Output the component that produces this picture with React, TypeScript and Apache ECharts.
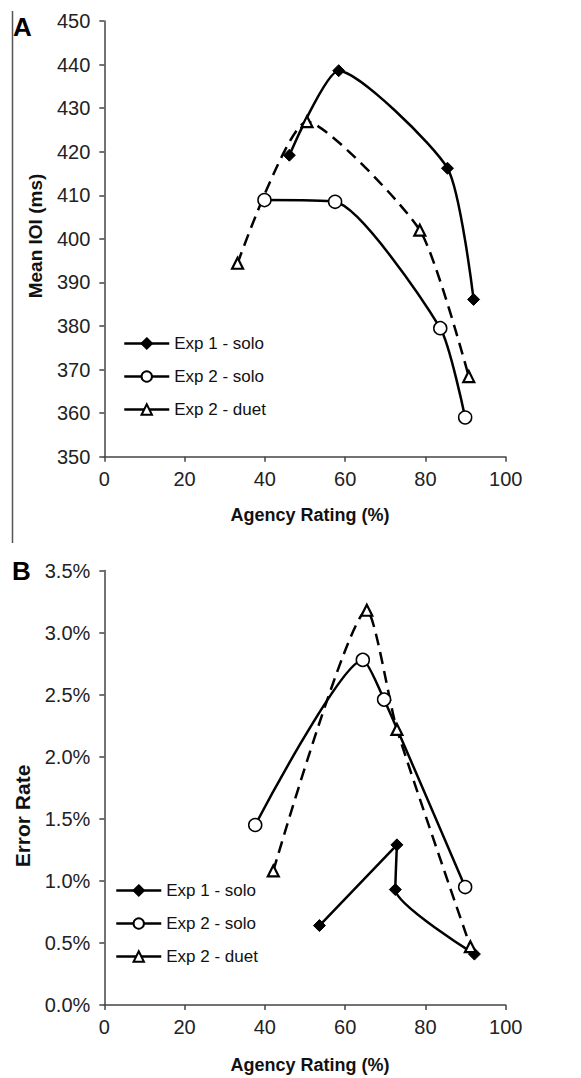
import React, { useEffect, useRef } from "react";
import * as echarts from "echarts";

// ---- Data ----
const seriesNames = ["Exp 1 - solo", "Exp 2 - solo", "Exp 2 - duet"];
const xTicks = [0, 20, 40, 60, 80, 100];

// Panel A: Mean IOI (ms) vs Agency Rating (%)
const aExp1SoloX = [46.1, 58.4, 85.5, 92.0];
const aExp1SoloY = [419.2, 438.6, 416.2, 386.1];
const aExp2SoloX = [39.9, 57.5, 83.7, 89.9];
const aExp2SoloY = [408.9, 408.5, 379.5, 359.0];
const aExp2DuetX = [33.2, 50.5, 78.6, 90.8];
const aExp2DuetY = [394.4, 426.9, 402.0, 368.4];

// Panel B: Error Rate (%) vs Agency Rating (%)
const bExp1SoloX = [53.6, 72.9, 72.5, 92.2];
const bExp1SoloY = [0.64, 1.29, 0.93, 0.41];
const bExp2SoloX = [37.6, 64.4, 69.7, 89.9];
const bExp2SoloY = [1.45, 2.78, 2.46, 0.95];
const bExp2DuetX = [42.1, 65.4, 72.9, 91.2];
const bExp2DuetY = [1.08, 3.18, 2.22, 0.47];

const zip = (xs: number[], ys: number[]) => xs.map((x, i) => [x, ys[i]]);

const FONT = "Liberation Sans, Arial, sans-serif";

export default function App() {
  const ref = useRef<HTMLDivElement>(null);

  useEffect(() => {
    document.body.style.margin = "0";
    const chart = echarts.init(ref.current!, null, { renderer: "svg" });

    const styleFor = (name: string) => {
      if (name === "Exp 1 - solo")
        return {
          symbol: "diamond",
          symbolSize: 12,
          itemStyle: { color: "#000", borderColor: "#000", borderWidth: 1 },
          lineStyle: { color: "#000", width: 2.5, type: "solid" as const },
        };
      if (name === "Exp 2 - solo")
        return {
          symbol: "circle",
          symbolSize: 13,
          itemStyle: { color: "#fff", borderColor: "#000", borderWidth: 1.5 },
          lineStyle: { color: "#000", width: 2.5, type: "solid" as const },
        };
      return {
        symbol: "triangle",
        symbolSize: 11,
        itemStyle: { color: "#fff", borderColor: "#000", borderWidth: 2.2 },
        lineStyle: { color: "#000", width: 2.5, type: [12, 7] as any },
      };
    };

    const mk = (name: string, data: number[][], idx: number) => ({
      name,
      type: "line",
      xAxisIndex: idx,
      yAxisIndex: idx,
      data,
      smooth: 0.2,
      showSymbol: true,
      z: 3,
      ...styleFor(name),
    });

    const axisLine = { show: true, lineStyle: { color: "#444", width: 1.5 } };
    const axisTick = { show: true, length: 5, lineStyle: { color: "#444", width: 1.5 } };
    const labelStyle = { color: "#222", fontSize: 20, fontFamily: FONT };

    const xAxis = (gi: number) => ({
      type: "value",
      gridIndex: gi,
      min: xTicks[0],
      max: xTicks[xTicks.length - 1],
      interval: 20,
      axisLine,
      axisTick,
      splitLine: { show: false },
      axisLabel: { ...labelStyle, margin: 12 },
    });

    const legend = (left: number, top: number) => ({
      data: seriesNames,
      orient: "vertical",
      left,
      top,
      itemWidth: 45,
      itemHeight: 13,
      itemGap: 16,
      selectedMode: false,
      lineStyle: { type: "solid", width: 2.5 },
      textStyle: { color: "#111", fontSize: 17, fontFamily: FONT },
    });

    chart.setOption({
      animation: false,
      backgroundColor: "#fff",
      grid: [
        { left: 104.3, right: 75.3, top: 21, height: 435.7 },
        { left: 104.3, right: 75.3, top: 570.5, height: 434.5 },
      ],
      xAxis: [xAxis(0), xAxis(1)],
      yAxis: [
        {
          type: "value",
          gridIndex: 0,
          min: 350,
          max: 450,
          interval: 10,
          axisLine,
          axisTick,
          splitLine: { show: false },
          axisLabel: { ...labelStyle, margin: 14 },
        },
        {
          type: "value",
          gridIndex: 1,
          min: 0,
          max: 3.5,
          interval: 0.5,
          axisLine,
          axisTick,
          splitLine: { show: false },
          axisLabel: {
            ...labelStyle,
            margin: 14,
            formatter: (v: number) => `${v.toFixed(1)}%`,
          },
        },
      ],
      legend: [legend(118, 330), legend(110, 877)],
      series: [
        mk(seriesNames[0], zip(aExp1SoloX, aExp1SoloY), 0),
        mk(seriesNames[1], zip(aExp2SoloX, aExp2SoloY), 0),
        mk(seriesNames[2], zip(aExp2DuetX, aExp2DuetY), 0),
        mk(seriesNames[0], zip(bExp1SoloX, bExp1SoloY), 1),
        mk(seriesNames[1], zip(bExp2SoloX, bExp2SoloY), 1),
        mk(seriesNames[2], zip(bExp2DuetX, bExp2DuetY), 1),
      ],
      graphic: [
        {
          type: "line",
          shape: { x1: 12.5, y1: 11, x2: 12.5, y2: 543 },
          style: { stroke: "#555", lineWidth: 1.5 },
        },
        {
          type: "text",
          x: 13,
          y: 14,
          style: { text: "A", fontSize: 26, fontWeight: "bold", fontFamily: FONT, fill: "#000" },
        },
        {
          type: "text",
          x: 12,
          y: 558,
          style: { text: "B", fontSize: 26, fontWeight: "bold", fontFamily: FONT, fill: "#000" },
        },
        {
          type: "text",
          x: 35,
          y: 236,
          rotation: Math.PI / 2,
          style: {
            text: "Mean IOI (ms)",
            fontSize: 19,
            fontWeight: "bold",
            fontFamily: FONT,
            fill: "#111",
            align: "center",
            verticalAlign: "middle",
          },
        },
        {
          type: "text",
          x: 22,
          y: 816,
          rotation: Math.PI / 2,
          style: {
            text: "Error Rate",
            fontSize: 21,
            fontWeight: "bold",
            fontFamily: FONT,
            fill: "#111",
            align: "center",
            verticalAlign: "middle",
          },
        },
        {
          type: "text",
          x: 310,
          y: 515,
          style: {
            text: "Agency Rating (%)",
            fontSize: 18,
            fontWeight: "bold",
            fontFamily: FONT,
            fill: "#111",
            align: "center",
            verticalAlign: "middle",
          },
        },
        {
          type: "text",
          x: 310,
          y: 1065,
          style: {
            text: "Agency Rating (%)",
            fontSize: 18,
            fontWeight: "bold",
            fontFamily: FONT,
            fill: "#111",
            align: "center",
            verticalAlign: "middle",
          },
        },
      ],
    });

    return () => chart.dispose();
  }, []);

  return (
    <div
      ref={ref}
      style={{ position: "absolute", left: 0, top: 0, width: 581, height: 1078 }}
    />
  );
}
